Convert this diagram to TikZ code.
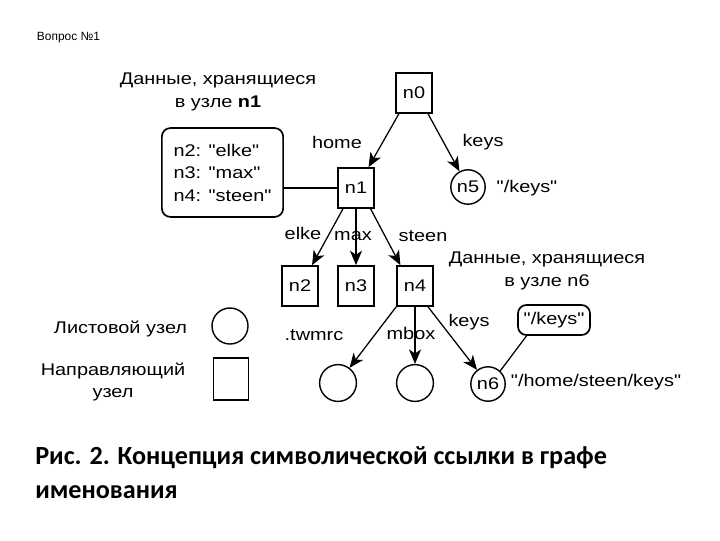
\documentclass[tikz,border=0pt]{standalone}
\usepackage{fontspec}
\newfontfamily\diagfont{Liberation Sans}[FakeStretch=1.18]
\newfontfamily\plainfont{Liberation Sans}
\newfontfamily\capfont{Carlito}
\usetikzlibrary{arrows.meta}

\begin{document}
\begin{tikzpicture}[
  x=0.025cm, y=-0.025cm,
  font=\diagfont\fontsize{12}{16}\selectfont,
  >={Stealth[length=3.6mm,width=3mm,inset=1mm]},
  dir/.style={draw, line width=1.2pt, minimum width=0.9cm, minimum height=1cm, inner sep=1pt},
  leaf/.style={draw, circle, line width=1pt, minimum size=0.92cm, inner sep=0pt},
  data/.style={draw, rounded corners=6pt, line width=1.2pt, align=left},
  arr/.style={->, line width=0.9pt},
]
\fill[white] (0,0) rectangle (720,540);
\useasboundingbox (0,0) rectangle (720,540);

\node[anchor=west, font=\plainfont\fontsize{8.5}{10}\selectfont] (quest) at (32,38) {Вопрос №1};

% tree
\node[dir] (n0) at (414,93) {n0};
\node[dir] (n1) at (356,188) {n1};
\node[leaf, minimum size=0.86cm] (n5) at (468,187) {n5};
\node[dir] (n2) at (300,286) {n2};
\node[dir] (n3) at (356,286) {n3};
\node[dir] (n4) at (415,286) {n4};
\node[leaf] (l1) at (338,383) {};
\node[leaf] (l2) at (415,383) {};
\node[leaf, minimum size=0.86cm] (n6) at (488,384) {n6};

\draw[arr] (n0.-126) -- (n1.59);
\draw[arr] (n0.-56) -- (n5);
\draw[arr] (n1.-122) -- (n2.60);
\draw[arr] (n1.south) -- (n3.north);
\draw[arr] (n1.-55) -- (n4.125);
\draw[arr] (n4.south west) -- (l1);
\draw[arr] (n4.south) -- (l2.north);
\draw[arr] (n4.-58) -- (n6);

% edge names
\node (home) at (337,142) {home};
\node (keys0) at (483,142) {keys};
\node (elke) at (303,233) {elke};
\node (max) at (353,236) {max};
\node (steen) at (423,236) {steen};
\node (twmrc) at (314,335) {.twmrc};
\node (mbox) at (411,333) {mbox};
\node (keys4) at (469,322) {keys};
\node (v5) at (527,188) {"/keys"};
\node[anchor=west] (v6) at (506,382) {"/home/steen/keys"};

% stored data
\node[align=center] (note1) at (218,92) {Данные, хранящиеся\\в узле \textbf{n1}};
\node[data, minimum width=3.03cm, minimum height=2.22cm] (dbox) at (222.5,172.5)
  {n2: "elke"\\n3: "max"\\n4: "steen"};
\draw[line width=1.2pt] (dbox.east |- n1.west) -- (n1.west);

\node[align=center] (note6) at (547,271) {Данные, хранящиеся\\в узле n6};
\node[data, minimum width=1.8cm, minimum height=0.75cm, inner sep=2pt] (kbox) at (554,320) {"/keys"};
\draw[line width=0.9pt] (kbox.-150) -- (n6.47);

% legend
\node[anchor=east] (lleaf) at (192,329) {Листовой узел};
\node[leaf, minimum size=0.9cm] (sleaf) at (230,326) {};
\node[align=center] (ldir) at (113,382) {Направляющий\\узел};
\node[draw, line width=1.2pt, minimum width=0.875cm, minimum height=1.05cm] (sdir) at (231,379) {};

% caption
\node[anchor=west, align=left, inner sep=0pt, font=\capfont\bfseries\fontsize{18.6}{24}\selectfont]
  (cap) at (35,473) {Рис. 2. Концепция символической ссылки в графе\\именования};
\end{tikzpicture}
\end{document}
